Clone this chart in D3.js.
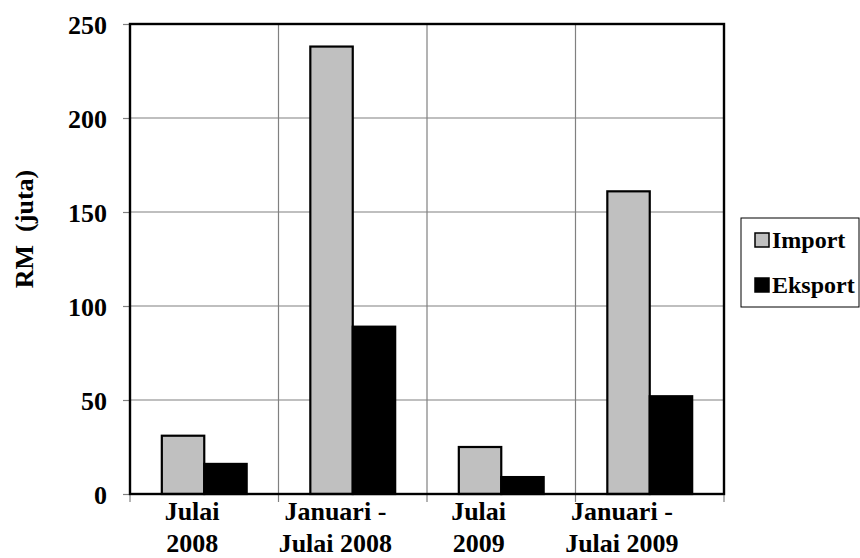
<!DOCTYPE html>
<html>
<head>
<meta charset="utf-8">
<script src="https://cdn.jsdelivr.net/npm/d3@7"></script>
<style>
  html, body { margin: 0; padding: 0; background: #fff; }
</style>
</head>
<body>
<svg id="chart" width="860" height="558"></svg>
<script>
// Nilai import dan eksport (RM juta)
const categories = ["Julai 2008", "Januari - Julai 2008", "Julai 2009", "Januari - Julai 2009"];
const categoryLines = [["Julai", "2008"], ["Januari -", "Julai 2008"], ["Julai", "2009"], ["Januari -", "Julai 2009"]];
const seriesNames = ["Import", "Eksport"];
const importValues = [31, 238, 25, 161];
const eksportValues = [16, 89, 9, 52];
const yTicks = [0, 50, 100, 150, 200, 250];
const seriesColors = ["#c0c0c0", "#000000"];

const FONT = "Liberation Serif";
const svg = d3.select("#chart");
const plot = { left: 130, right: 724, top: 24, bottom: 494 };

const x = d3.scaleBand().domain(categories).range([plot.left, plot.right]).paddingInner(0).paddingOuter(0);
const xSub = d3.scaleBand().domain(seriesNames).range([0, x.bandwidth()]).paddingInner(0).paddingOuter(0.75);
const y = d3.scaleLinear().domain([0, 250]).range([plot.bottom, plot.top]);
// Category labels sit on a slightly narrower band than the bars
const xLabel = d3.scaleBand().domain(categories).range([120.5, 693.5]);

// Horizontal gridlines
svg.append("g").selectAll("line").data(yTicks.filter(v => v > 0 && v < 250)).join("line")
  .attr("x1", plot.left).attr("x2", plot.right)
  .attr("y1", d => y(d)).attr("y2", d => y(d))
  .attr("stroke", "#808080").attr("stroke-width", 1.2);

// Vertical gridlines on category boundaries, continuing as tick marks below the axis
const bounds = categories.map(c => x(c)).concat([x(categories[categories.length - 1]) + x.bandwidth()]);
svg.append("g").selectAll("line").data(bounds.slice(1, -1)).join("line")
  .attr("x1", d => d).attr("x2", d => d)
  .attr("y1", plot.top).attr("y2", plot.bottom + 8)
  .attr("stroke", "#808080").attr("stroke-width", 1.2);
svg.append("g").selectAll("line").data([bounds[0], bounds[bounds.length - 1]]).join("line")
  .attr("x1", d => d).attr("x2", d => d)
  .attr("y1", plot.bottom).attr("y2", plot.bottom + 8)
  .attr("stroke", "#808080").attr("stroke-width", 1.2);

// Y axis ticks and labels
const yAxis = d3.axisLeft(y).tickValues(yTicks).tickSize(7).tickPadding(16);
const yG = svg.append("g").attr("transform", `translate(${plot.left},0)`).call(yAxis)
  .attr("font-family", FONT).attr("font-size", 26).attr("font-weight", "bold");
yG.select(".domain").remove();
yG.selectAll(".tick line").attr("stroke", "#808080").attr("stroke-width", 1.2);
yG.selectAll(".tick text").attr("dy", "0.36em").attr("fill", "#000");

// Bars
const groups = svg.append("g").selectAll("g").data(categories).join("g")
  .attr("transform", c => `translate(${x(c)},0)`);
groups.selectAll("rect").data((c, i) => [
    { s: seriesNames[0], v: importValues[i], color: seriesColors[0] },
    { s: seriesNames[1], v: eksportValues[i], color: seriesColors[1] }
  ]).join("rect")
  .attr("x", d => xSub(d.s))
  .attr("width", xSub.bandwidth())
  .attr("y", d => y(d.v))
  .attr("height", d => y(0) - y(d.v))
  .attr("fill", d => d.color)
  .attr("stroke", "#000").attr("stroke-width", 2.2);

// Plot frame
svg.append("rect")
  .attr("x", plot.left).attr("y", plot.top)
  .attr("width", plot.right - plot.left).attr("height", plot.bottom - plot.top)
  .attr("fill", "none").attr("stroke", "#000").attr("stroke-width", 2.4);

// Category labels (two lines each)
const labels = svg.append("g").selectAll("text").data(categories).join("text")
  .attr("font-family", FONT).attr("font-weight", "bold").attr("font-size", 26)
  .attr("text-anchor", "middle")
  .attr("x", c => xLabel(c) + xLabel.bandwidth() / 2)
  .attr("y", 520);
labels.selectAll("tspan").data((c, i) => categoryLines[i]).join("tspan")
  .attr("x", function () { return this.parentNode.getAttribute("x"); })
  .attr("dy", (d, j) => j === 0 ? 0 : 32)
  .text(d => d);

// Y axis title
svg.append("text")
  .attr("font-family", FONT).attr("font-weight", "bold").attr("font-size", 26)
  .attr("transform", "translate(33,229) rotate(-90)")
  .attr("text-anchor", "middle")
  .attr("xml:space", "preserve")
  .style("white-space", "pre")
  .text("RM  (juta)");

// Legend
const legend = svg.append("g").attr("transform", "translate(741,218)");
legend.append("rect").attr("x", 0).attr("y", 0).attr("width", 118).attr("height", 89)
  .attr("fill", "#fff").attr("stroke", "#000").attr("stroke-width", 1);
const items = legend.selectAll("g.item").data(seriesNames).join("g").attr("class", "item")
  .attr("transform", (d, i) => `translate(0,${22 + i * 45})`);
items.append("rect").attr("x", 14).attr("y", -7).attr("width", 14).attr("height", 14)
  .attr("fill", (d, i) => seriesColors[i]).attr("stroke", "#000").attr("stroke-width", 1.5);
items.append("text").attr("x", 31).attr("y", 8)
  .attr("font-family", FONT).attr("font-weight", "bold").attr("font-size", 24)
  .text(d => d);
</script>
</body>
</html>
